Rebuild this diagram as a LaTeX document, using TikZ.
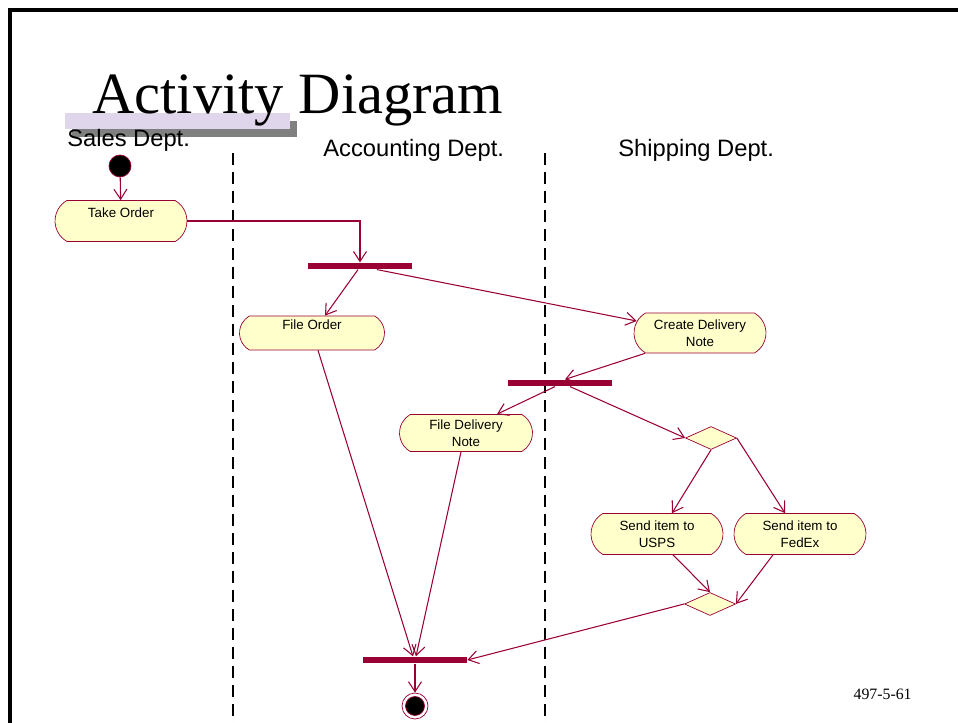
\documentclass[tikz,border=0pt]{standalone}
\usepackage{fontspec}
\setmainfont{Liberation Serif}
\setsansfont{Liberation Sans}
\usetikzlibrary{shapes.misc,shapes.geometric,arrows.meta,calc}

\definecolor{umlred}{RGB}{153,0,51}
\definecolor{umlfill}{RGB}{255,255,204}
\definecolor{titlebar}{RGB}{224,214,236}

\tikzset{
	act/.style={rounded rectangle, rounded rectangle arc length=120, draw=umlred, fill=umlfill,
		minimum width=2.64cm, minimum height=0.82cm, inner sep=0pt, align=center,
		font=\sffamily\fontsize{7.6}{9.5}\selectfont},
	bar/.style={fill=umlred, minimum width=2.1cm, minimum height=0.13cm, inner sep=0pt},
	branch/.style={diamond, draw=umlred, fill=umlfill, minimum width=1.02cm, minimum height=0.46cm, inner sep=0pt},
	flow/.style={umlred, line width=0.6pt, -{Straight Barb[length=2mm,width=2.6mm]}},
	lane/.style={black, dash pattern=on 0.24cm off 0.14cm, line width=1.7pt},
	lanetitle/.style={anchor=base west, inner sep=0pt, font=\sffamily\fontsize{13.5}{16}\selectfont},
}

\begin{document}
\begin{tikzpicture}[x=0.02cm, y=-0.02cm]
	\useasboundingbox (0,0) rectangle (958,723);
	
	% Рамка и заголовок
	\draw[line width=2.2pt] (10,723) -- (10,10) -- (958,10);
	\fill[gray] (72,121) rectangle (297,137);
	\fill[titlebar] (65,113) rectangle (290,129);
	\node[anchor=base west, inner sep=0pt, font=\fontsize{33.3}{38}\selectfont] (title) at (92,114) {Activity Diagram};
	\node[anchor=base east, inner sep=0pt, font=\fontsize{9}{11}\selectfont] (pagenum) at (912,699) {497-5-61};
	
	% Дорожки
	\node[lanetitle] (sales) at (67,147) {Sales Dept.};
	\node[lanetitle] (accounting) at (323,157) {Accounting Dept.};
	\node[lanetitle] (shipping) at (618,157) {Shipping Dept.};
	\foreach \x in {233, 545}
		\draw[lane] (\x,153) -- (\x,723);
	
	% Состояния
	\node[circle, fill=black, draw=umlred, minimum size=0.44cm, inner sep=0pt] (start) at (120,166) {};
	\node[act] (takeorder) at (121,221) {Take Order\\\mbox{}};
	\node[bar] (fork1) at (360,266) {};
	\node[act, minimum width=2.9cm, minimum height=0.68cm] (fileorder) at (312,333) {File Order\\\mbox{}};
	\node[act, minimum height=0.8cm] (createnote) at (700,333) {Create Delivery\\Note};
	\node[bar] (fork2) at (560,383) {};
	\node[act, minimum width=2.66cm, minimum height=0.74cm] (filenote) at (466,433) {File Delivery\\Note};
	\node[branch] (decision) at (711,438) {};
	\node[act] (usps) at (657,534) {Send item to\\USPS};
	\node[act] (fedex) at (800,534) {Send item to\\FedEx};
	\node[branch] (merge) at (710,604) {};
	\node[bar, minimum width=2.08cm] (join) at (415,660) {};
	\node[circle, draw=umlred, minimum size=0.52cm, inner sep=0pt] (final) at (415,706) {};
	\node[circle, fill=black, draw=umlred, minimum size=0.38cm, inner sep=0pt] (finaldot) at (final) {};
	
	% Переходы
	\draw[flow] (start) -- (takeorder);
	\draw[flow] (takeorder.east) -| (fork1.north);
	\draw[flow] ($(fork1.south)+(-2,0)$) -- ($(fileorder.north)+(13,0)$);
	\draw[flow] ($(fork1.south)+(17,0)$) -- ($(createnote.west)+(3,-12)$);
	\draw[flow] ($(createnote.south)+(-55,0)$) -- ($(fork2.north)+(5,0)$);
	\draw[flow] ($(fork2.south)+(-5,0)$) -- ($(filenote.north)+(31,0)$);
	\draw[flow] ($(fork2.south)+(10,0)$) -- (decision.west);
	\draw[flow] (decision.south) -- ($(usps.north)+(15,0)$);
	\draw[flow] (decision.east) -- ($(fedex.north)+(-15,0)$);
	\draw[flow] ($(usps.south)+(16,0)$) -- (merge.north);
	\draw[flow] ($(fedex.south)+(-27,0)$) -- (merge.east);
	\draw[flow] (merge.west) -- (join.east);
	\draw[flow] ($(fileorder.south)+(6,0)$) -- ($(join.north)+(-2,0)$);
	\draw[flow] ($(filenote.south)+(-5,0)$) -- ($(join.north)+(1,0)$);
	\draw[flow] (join) -- (final);
\end{tikzpicture}
\end{document}
